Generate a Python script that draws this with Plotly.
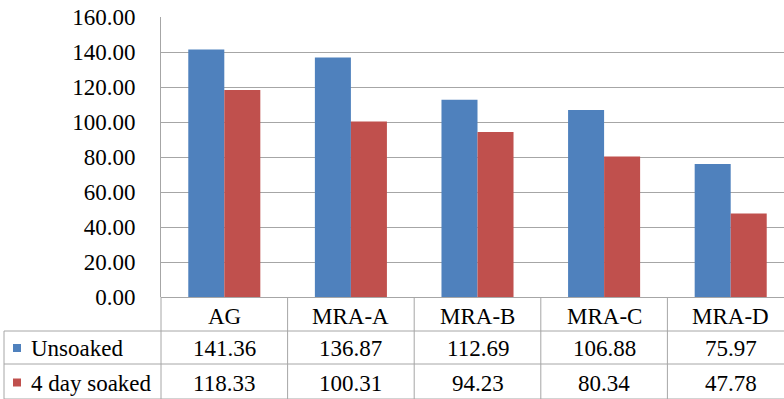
import plotly.graph_objects as go

categories = ["AG", "MRA-A", "MRA-B", "MRA-C", "MRA-D"]
series_names = ["Unsoaked", "4 day soaked"]
unsoaked = [141.36, 136.87, 112.69, 106.88, 75.97]
soaked = [118.33, 100.31, 94.23, 80.34, 47.78]
y_ticks = [0, 20, 40, 60, 80, 100, 120, 140, 160]

colors = ["#4F81BD", "#C0504D"]
FONT = "Liberation Serif"
FS = 23
GRID = "#A6A6A6"

W, H = 784, 399
L, R, T, B = 161, 0, 17, 102
pw = W - L - R
ph = H - T - B

def py(p):  # pixel y (from top) -> paper y
    return (H - B - p) / ph

def px(p):  # pixel x -> paper x
    return (p - L) / pw

x = list(range(len(categories)))
fig = go.Figure()
for name, vals, c in zip(series_names, [unsoaked, soaked], colors):
    fig.add_trace(go.Bar(x=x, y=vals, name=name, marker=dict(color=c, line=dict(width=0)),
                         showlegend=False))

shapes = []
annotations = []
row_lines = [331, 364, 399]
for yy in row_lines:
    shapes.append(dict(type="line", xref="paper", yref="paper", x0=px(4), x1=1,
                       y0=py(yy), y1=py(yy), line=dict(color=GRID, width=1)))
shapes.append(dict(type="line", xref="paper", yref="paper", x0=px(4), x1=px(4),
                   y0=py(331), y1=py(399), line=dict(color=GRID, width=1)))
shapes.append(dict(type="line", xref="paper", yref="paper", x0=0, x1=0,
                   y0=py(297), y1=py(399), line=dict(color=GRID, width=1)))
for i in range(1, len(categories) + 1):
    shapes.append(dict(type="line", xref="x", yref="paper", x0=i - 0.5, x1=i - 0.5,
                       y0=0, y1=py(399), line=dict(color=GRID, width=1)))

header_y = 316.5
row_y = [348.5, 383]
for i, cat in enumerate(categories):
    annotations.append(dict(x=i, y=py(header_y), xref="x", yref="paper", text=cat,
                            showarrow=False, font=dict(family=FONT, size=FS, color="#000"),
                            xanchor="center", yanchor="middle"))
    for r, vals in enumerate([unsoaked, soaked]):
        annotations.append(dict(x=i, y=py(row_y[r]), xref="x", yref="paper",
                                text=f"{vals[i]:.2f}", showarrow=False,
                                font=dict(family=FONT, size=FS, color="#000"),
                                xanchor="center", yanchor="middle"))
for r, name in enumerate(series_names):
    cy = row_y[r] - 0.5
    shapes.append(dict(type="rect", xref="paper", yref="paper", x0=px(13), x1=px(21),
                       y0=py(cy + 4), y1=py(cy - 4),
                       fillcolor=colors[r], line=dict(width=0)))
    annotations.append(dict(x=px(29), y=py(row_y[r]), xref="paper", yref="paper", text=name,
                            showarrow=False, font=dict(family=FONT, size=FS, color="#000"),
                            xanchor="left", yanchor="middle"))

fig.update_layout(
    width=W, height=H,
    margin=dict(l=L, r=R, t=T, b=B, pad=0),
    paper_bgcolor="white", plot_bgcolor="white",
    barmode="group", bargap=0.431, bargroupgap=0,
    font=dict(family=FONT, size=FS, color="#000"),
    xaxis=dict(range=[-0.5, -0.5 + pw / 126.6], showticklabels=False, showgrid=False,
               zeroline=False, showline=False, ticks=""),
    yaxis=dict(range=[0, 160], tickvals=y_ticks, tickformat=".2f", showgrid=True,
               gridcolor=GRID, gridwidth=1, zeroline=True, zerolinecolor=GRID, zerolinewidth=1,
               showline=True, linecolor=GRID, linewidth=1, ticks="outside", ticklen=0,
               tickfont=dict(family=FONT, size=FS, color="#000"),
               ticklabelstandoff=20),
    shapes=shapes, annotations=annotations,
)
fig.write_html("out.html", config={"displayModeBar": False},
               post_script="document.body.style.margin='0';document.body.style.overflow='hidden';")
